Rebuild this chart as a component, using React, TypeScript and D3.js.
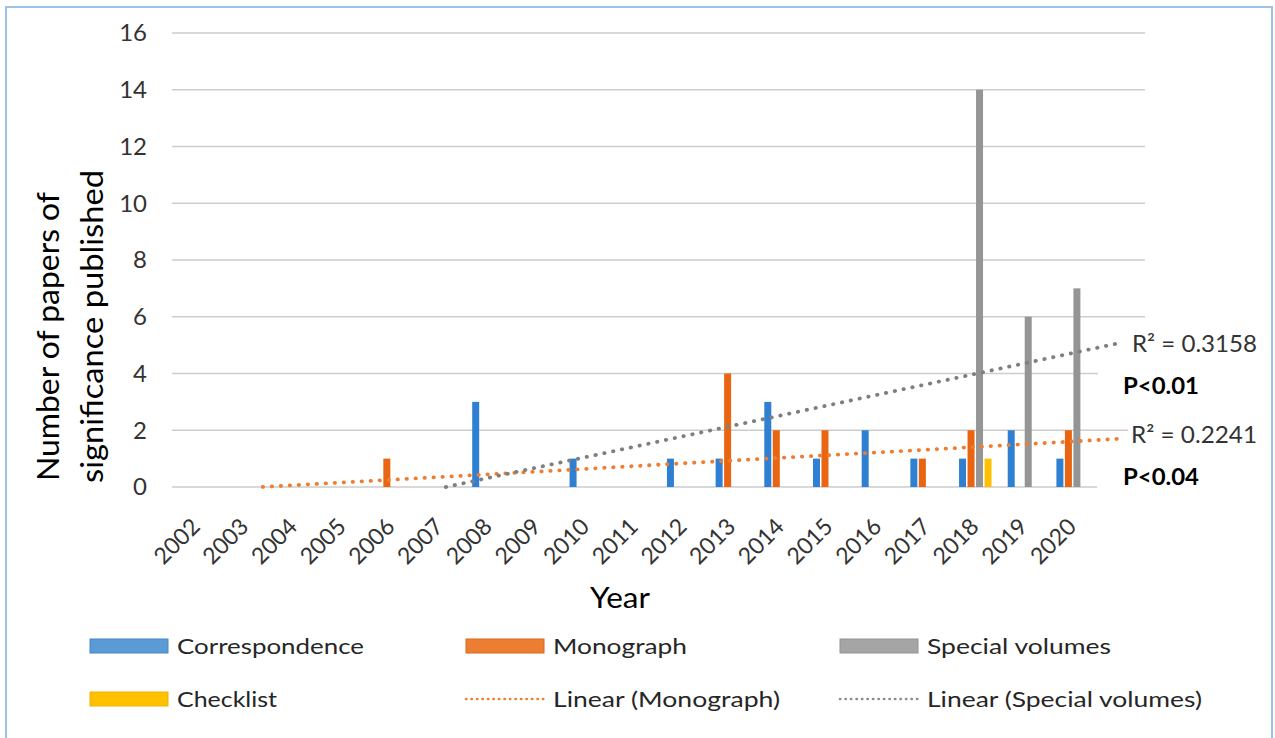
import React from "react";
import * as d3 from "d3";

const years = ["2002","2003","2004","2005","2006","2007","2008","2009","2010","2011","2012","2013","2014","2015","2016","2017","2018","2019","2020"];
const seriesNames = ["Correspondence", "Monograph", "Special volumes", "Checklist"];
const correspondence = [0,0,0,0,0,0,3,0,1,0,1,1,3,1,2,1,1,2,1];
const monograph = [0,0,0,0,1,0,0,0,0,0,0,4,2,2,0,1,2,0,2];
const specialVolumes = [0,0,0,0,0,0,0,0,0,0,0,0,0,0,0,0,14,6,7];
const checklist = [0,0,0,0,0,0,0,0,0,0,0,0,0,0,0,0,1,0,0];
const yTicks = [0,2,4,6,8,10,12,14,16];

const barColors = ["#2f80d2", "#ea6512", "#959595", "#ffc000"];
const swatchFill = ["#5b9bd5", "#ed7d31", "#a5a5a5", "#ffc000"];
const swatchStroke = ["#4a86c5", "#d86a20", "#939393", "#f0b400"];
const FONT = "Lato, 'Noto Sans', sans-serif";

function regress(vals: number[]) {
  const n = vals.length;
  const xs = vals.map((_, i) => i + 1);
  const mx = d3.mean(xs) as number;
  const my = d3.mean(vals) as number;
  let sxy = 0, sxx = 0, syy = 0;
  vals.forEach((v, i) => {
    sxy += (xs[i] - mx) * (v - my);
    sxx += (xs[i] - mx) ** 2;
    syy += (v - my) ** 2;
  });
  const slope = sxy / sxx;
  const intercept = my - slope * mx;
  return { slope, intercept, r2: (sxy * sxy) / (sxx * syy), n };
}

export default function App() {
  const W = 1275, H = 738;
  const left = 172, right = 1097, top = 33, bottom = 487;
  const x0 = d3.scaleBand<string>().domain(years).range([left, right]).padding(0);
  const bw = x0.bandwidth();
  const x1 = d3.scaleBand<string>().domain(seriesNames).range([bw / 2 - 17, bw / 2 + 17]).padding(0);
  const y = d3.scaleLinear().domain([0, 16]).range([bottom, top]);
  const tScale = d3.scaleLinear().domain([0.5, years.length + 0.5]).range([left, right]);
  const data = [correspondence, monograph, specialVolumes, checklist];
  const barW = 7;

  const trendEnd = tScale.invert(1118);
  const trends = [
    { vals: monograph, color: "#ed7d31" },
    { vals: specialVolumes, color: "#7f7f7f" },
  ].map((d) => {
    const r = regress(d.vals);
    const zeroT = -r.intercept / r.slope;
    const t0 = Math.max(1, zeroT);
    const pts: [number, number][] = [t0, trendEnd].map((t) => [tScale(t), y(Math.max(0, r.intercept + r.slope * t))]);
    return { ...d, r, path: d3.line()(pts) as string };
  });

  const gridExtent = 1145;

  return (
    <svg width={W} height={H} style={{ position: "absolute", left: 0, top: 0, background: "#fff" }} fontFamily={FONT}>
      <rect x={0} y={0} width={W} height={H} fill="#fff" />
      <rect x={6} y={7} width={1266} height={745} fill="none" stroke="#9cc2ea" strokeWidth={2} />

      {/* gridlines */}
      {yTicks.map((t) => (
        <line key={t} x1={left} x2={t === 0 ? right : gridExtent} y1={y(t)} y2={y(t)} stroke="#cdcdcd" strokeWidth={1.6} />
      ))}

      {/* y tick labels */}
      {yTicks.map((t) => (
        <text key={"yl" + t} x={147} y={y(t)} dy="0.35em" textAnchor="end" fontSize={24} fill="#333">{t}</text>
      ))}

      {/* bars */}
      {data.map((vals, si) =>
        vals.map((v, i) =>
          v > 0 ? (
            <rect
              key={si + "-" + i}
              x={(x0(years[i]) as number) + (x1(seriesNames[si]) as number) + (x1.bandwidth() - barW) / 2}
              y={y(v)}
              width={barW}
              height={y(0) - y(v)}
              fill={barColors[si]}
            />
          ) : null
        )
      )}

      {/* trend lines */}
      {trends.map((tr, i) => (
        <path key={"tr" + i} d={tr.path} fill="none" stroke={tr.color} strokeWidth={3.8} strokeLinecap="round" strokeDasharray="0.4 8.6" />
      ))}

      {/* x tick labels */}
      {years.map((yr) => {
        const cx = (x0(yr) as number) + bw / 2 + 5;
        const cy = 528;
        return (
          <text key={"xl" + yr} x={cx} y={cy} textAnchor="end" fontSize={23} fill="#333" transform={`rotate(-45 ${cx} ${cy})`}>{yr}</text>
        );
      })}

      {/* trend labels */}
      <rect x={1098} y={364} width={110} height={36} fill="#fff" />
      <rect x={1128} y={420} width={135} height={30} fill="#fff" />
      <rect x={1098} y={462} width={110} height={30} fill="#fff" />
      <text x={1132} y={352} fontSize={24} fill="#333" textLength={125} lengthAdjust="spacingAndGlyphs">{`R² = ${trends[1].r.r2.toFixed(4)}`}</text>
      <text x={1123} y={394} fontSize={23} fontWeight="bold" fill="#000" textLength={76} lengthAdjust="spacingAndGlyphs">P&lt;0.01</text>
      <text x={1131} y={443} fontSize={24} fill="#333" textLength={126} lengthAdjust="spacingAndGlyphs">{`R² = ${trends[0].r.r2.toFixed(4)}`}</text>
      <text x={1123} y={485} fontSize={23} fontWeight="bold" fill="#000" textLength={76} lengthAdjust="spacingAndGlyphs">P&lt;0.04</text>

      {/* axis titles */}
      <text x={620} y={608} textAnchor="middle" fontSize={28} fill="#000" textLength={60} lengthAdjust="spacingAndGlyphs">Year</text>
      <text transform="translate(59 481) rotate(-90)" fontSize={31} fill="#000" textLength={289} lengthAdjust="spacingAndGlyphs">Number of papers of</text>
      <text transform="translate(103 483) rotate(-90)" fontSize={31} fill="#000" textLength={313} lengthAdjust="spacingAndGlyphs">significance published</text>

      {/* legend */}
      {[
        { label: "Correspondence", x: 90, yc: 646, kind: "box", idx: 0, len: 187 },
        { label: "Monograph", x: 466, yc: 646, kind: "box", idx: 1, len: 134 },
        { label: "Special volumes", x: 840, yc: 646, kind: "box", idx: 2, len: 184 },
        { label: "Checklist", x: 90, yc: 699, kind: "box", idx: 3, len: 100 },
        { label: "Linear (Monograph)", x: 466, yc: 699, kind: "line", color: "#ed7d31", len: 227 },
        { label: "Linear (Special volumes)", x: 840, yc: 699, kind: "line", color: "#8c8c8c", len: 275 },
      ].map((l: any) => (
        <g key={l.label}>
          {l.kind === "box" ? (
            <rect x={l.x} y={l.yc - 7} width={78} height={14} fill={swatchFill[l.idx]} stroke={swatchStroke[l.idx]} strokeWidth={1} />
          ) : (
            <line x1={l.x} x2={l.x + 78} y1={l.yc} y2={l.yc} stroke={l.color} strokeWidth={2.6} strokeLinecap="round" strokeDasharray="0.3 5.2" />
          )}
          <text x={l.x + 87} y={l.yc} dy="0.36em" fontSize={22} fill="#262626" textLength={l.len} lengthAdjust="spacingAndGlyphs">{l.label}</text>
        </g>
      ))}
    </svg>
  );
}
